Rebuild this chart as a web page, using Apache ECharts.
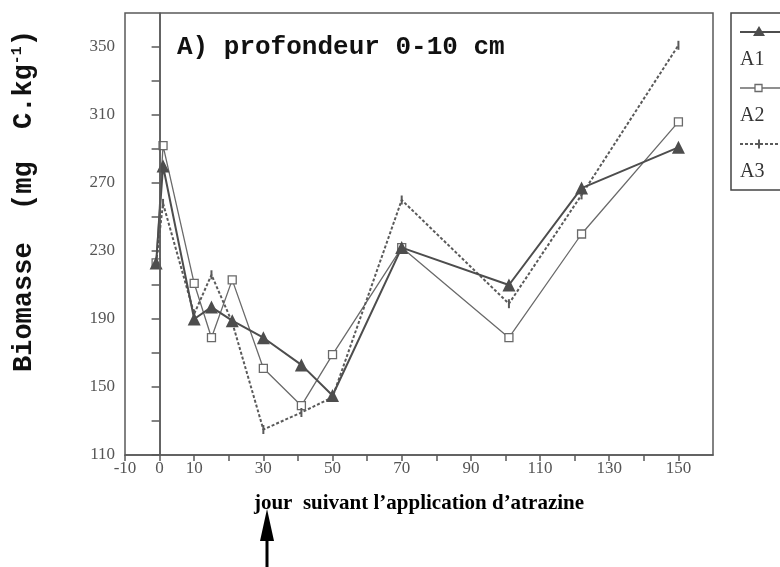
<!DOCTYPE html>
<html>
<head>
<meta charset="utf-8">
<script src="https://cdn.jsdelivr.net/npm/echarts@6/dist/echarts.min.js"></script>
<style>
  html, body { margin: 0; padding: 0; background: #fff; }
  #chart { width: 780px; height: 567px; }
</style>
</head>
<body>
<div id="chart"></div>
<script>
// Sampling days after atrazine application
const days = [-1, 1, 10, 15, 21, 30, 41, 50, 70, 101, 122, 150];

// Microbial biomass (mg C.kg-1), depth 0-10 cm
const seriesNames = ['A1', 'A2', 'A3'];
const biomassA1 = [223, 280, 190, 197, 189, 179, 163, 145, 232, 210, 267, 291];
const biomassA2 = [223, 292, 211, 179, 213, 161, 139, 169, 232, 179, 240, 306];
const biomassA3 = [223, 258, 193, 216, 188, 125, 135, 144, 260, 199, 263, 351];

// Tick labels shown on each axis
const xTickLabels = [-10, 0, 10, 30, 50, 70, 90, 110, 130, 150];
const yTickLabels = [110, 150, 190, 230, 270, 310, 350];

const pairs = (ys) => days.map((d, i) => [d, ys[i]]);

const chart = echarts.init(document.getElementById('chart'));

const axisGrey = '#5a5a5a';
const labelFont = 'Liberation Serif';

const styles = {
  A1: { color: '#4d4d4d', width: 2, type: 'solid', symbol: 'triangle', symbolSize: 13, fill: '#4d4d4d' },
  A2: { color: '#6a6a6a', width: 1.3, type: 'solid', symbol: 'rect', symbolSize: 8, fill: '#ffffff' },
  A3: { color: '#5a5a5a', width: 2, type: [3, 2], symbol: 'rect', symbolSize: [2, 9], fill: '#5a5a5a' }
};

const dataByName = { A1: biomassA1, A2: biomassA2, A3: biomassA3 };

const series = seriesNames.map((name) => {
  const s = styles[name];
  return {
    name: name,
    type: 'line',
    data: pairs(dataByName[name]),
    symbol: s.symbol,
    symbolSize: s.symbolSize,
    showAllSymbol: true,
    lineStyle: { color: s.color, width: s.width, type: s.type },
    itemStyle: { color: s.fill, borderColor: s.color, borderWidth: name === 'A2' ? 1.3 : 0 },
    z: name === 'A1' ? 4 : 3,
    animation: false
  };
});

// vertical reference line at day 0
series[0].markLine = {
  silent: true,
  symbol: ['none', 'none'],
  label: { show: false },
  lineStyle: { color: axisGrey, width: 1.5, type: 'solid' },
  data: [{ xAxis: 0 }],
  animation: false
};

// Legend box drawn as a small panel: line sample above each name
const legendGraphics = [{
  type: 'rect',
  shape: { x: 731, y: 13, width: 80, height: 177 },
  style: { fill: '#fff', stroke: '#444', lineWidth: 1.5 },
  z: 10
}];
seriesNames.forEach((name, i) => {
  const s = styles[name];
  const yLine = 32 + i * 56;
  legendGraphics.push({
    type: 'line',
    shape: { x1: 740, y1: yLine, x2: 782, y2: yLine },
    style: { stroke: s.color, lineWidth: s.width, lineDash: Array.isArray(s.type) ? s.type : null },
    z: 11
  });
  let marker;
  if (name === 'A1') {
    marker = { type: 'polygon', shape: { points: [[759, yLine - 6], [765, yLine + 4], [753, yLine + 4]] }, style: { fill: s.fill } };
  } else if (name === 'A2') {
    marker = { type: 'rect', shape: { x: 755, y: yLine - 3.5, width: 7, height: 7 }, style: { fill: '#fff', stroke: s.color, lineWidth: 1.3 } };
  } else {
    marker = { type: 'rect', shape: { x: 758, y: yLine - 4.5, width: 2, height: 9 }, style: { fill: s.fill } };
  }
  marker.z = 12;
  legendGraphics.push(marker);
  legendGraphics.push({
    type: 'text',
    left: 740,
    top: yLine + 18,
    style: { text: name, font: '20px "Liberation Serif"', fill: '#333' },
    z: 11
  });
});

// Arrow pointing up at the axis title
const arrow = {
  type: 'group',
  z: 10,
  children: [
    { type: 'polygon', shape: { points: [[267, 509], [274, 541], [260, 541]] }, style: { fill: '#000' } },
    { type: 'rect', shape: { x: 265.5, y: 538, width: 3, height: 40 }, style: { fill: '#000' } }
  ]
};

chart.setOption({
  backgroundColor: '#ffffff',
  animation: false,
  title: {
    text: 'A) profondeur 0-10 cm',
    left: 172,
    top: 29,
    textStyle: { fontFamily: 'Liberation Mono', fontWeight: 'bold', fontSize: 26, color: '#111' }
  },
  grid: {
    left: 125, right: 67, top: 13, bottom: 112,
    show: true, borderColor: axisGrey, borderWidth: 1.5, backgroundColor: 'transparent'
  },
  xAxis: {
    type: 'value',
    min: -10, max: 160, interval: 10,
    name: 'jour  suivant l\u2019application d\u2019atrazine',
    nameLocation: 'middle',
    nameGap: 38,
    nameTextStyle: { fontFamily: labelFont, fontWeight: 'bold', fontSize: 21, color: '#000' },
    axisLine: { show: true, lineStyle: { color: axisGrey, width: 1.5 } },
    axisTick: { show: true, length: 6, inside: false, lineStyle: { color: axisGrey, width: 1.5 } },
    splitLine: { show: false },
    axisLabel: {
      color: '#555', fontFamily: labelFont, fontSize: 17, margin: 5,
      showMaxLabel: false,
      formatter: (v) => xTickLabels.indexOf(v) >= 0 ? String(v) : ''
    }
  },
  yAxis: {
    type: 'value',
    min: 110, max: 370, interval: 20,
    name: '{a|Biomasse  (mg  C.kg}{s|-1}{a|)}',
    nameLocation: 'middle',
    nameRotate: 90,
    nameGap: 86,
    nameTextStyle: {
      padding: [0, 0, 0, 66],
      rich: {
        a: { fontFamily: 'Liberation Mono', fontWeight: 'bold', fontSize: 27, color: '#111' },
        s: { fontFamily: 'Liberation Mono', fontWeight: 'bold', fontSize: 15, color: '#111', padding: [0, 0, 14, 0] }
      }
    },
    axisLine: { show: true, lineStyle: { color: axisGrey, width: 1.5 } },
    axisTick: { show: true, length: 8, inside: false, lineStyle: { color: axisGrey, width: 1.5 } },
    splitLine: { show: false },
    axisLabel: {
      color: '#555', fontFamily: labelFont, fontSize: 17, margin: 10,
      showMaxLabel: false,
      formatter: (v) => yTickLabels.indexOf(v) >= 0 ? String(v) : ''
    }
  },
  series: series,
  graphic: legendGraphics.concat([arrow])
});
</script>
</body>
</html>
